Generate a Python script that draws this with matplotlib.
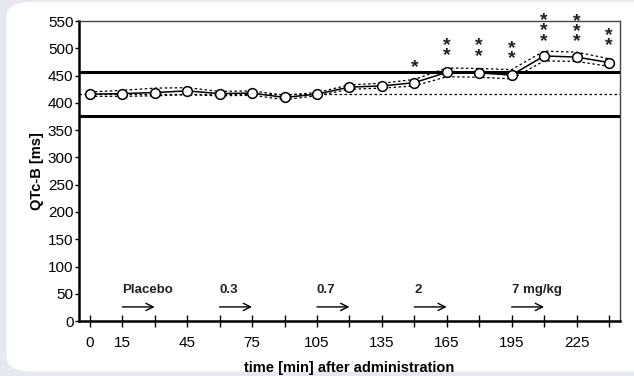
import matplotlib
matplotlib.use("Agg")
import matplotlib.pyplot as plt
from matplotlib.patches import FancyBboxPatch

plt.rcParams['font.family'] = ['Liberation Sans', 'DejaVu Sans']

# Data
times = [0, 15, 30, 45, 60, 75, 90, 105, 120, 135, 150, 165, 180, 195, 210, 225, 240]
qtc_mean = [416, 417, 419, 422, 417, 418, 410, 416, 429, 431, 437, 456, 455, 451, 486, 484, 474]
qtc_sem = [2, 2, 3, 2, 2, 2, 2, 2, 2, 2, 3, 3, 4, 3, 4, 3, 5]
band_upper = [420, 423, 427, 428, 421, 422, 414, 419, 433, 436, 443, 464, 463, 461, 495, 493, 481]
band_lower = [412, 412, 413, 415, 413, 414, 406, 413, 425, 427, 431, 448, 447, 444, 477, 476, 467]
upper_limit = 457
lower_limit = 376
baseline = 416
stars_times = [150, 165, 180, 195, 210, 225, 240]
stars_labels = ['*', '**', '**', '**', '***', '***', '**']
stars_y = [464, 496, 495, 490, 532, 531, 514]
dose_times = [15, 60, 105, 150, 195]
dose_labels = ['Placebo', '0.3', '0.7', '2', '7 mg/kg']
xticks = list(range(0, 241, 15))
xtick_labels = ['0', '15', '', '45', '', '75', '', '105', '', '135', '', '165', '', '195', '', '225', '']
yticks = list(range(0, 551, 50))

fig = plt.figure(figsize=(6.34, 3.76), dpi=100)
fig.patch.set_facecolor('#e6e8f0')
panel = FancyBboxPatch((0.010, 0.012), 1.2, 0.983, boxstyle="round,pad=0,rounding_size=0.04",
                       transform=fig.transFigure, facecolor='white', edgecolor='none', zorder=-5)
fig.patches.append(panel)

ax = fig.add_axes([0.1246, 0.146, 0.853, 0.798])
ax.set_zorder(2)
ax.set_facecolor('none')

ax.axhline(upper_limit, color='black', lw=2.2, zorder=1)
ax.axhline(lower_limit, color='black', lw=2.2, zorder=1)
ax.axhline(baseline, color='black', lw=0.9, ls=(0, (2, 2)), zorder=1)

ax.plot(times, band_upper, color='black', lw=0.9, ls=(0, (2, 2)), zorder=2)
ax.plot(times, band_lower, color='black', lw=0.9, ls=(0, (2, 2)), zorder=2)
ax.errorbar(times, qtc_mean, yerr=qtc_sem, color='black', lw=1.1, capsize=3, capthick=1,
            marker='o', markersize=7, markerfacecolor='white', markeredgecolor='black',
            markeredgewidth=1.1, zorder=3)

for t, s, y in zip(stars_times, stars_labels, stars_y):
    ax.text(t, y, '\n'.join(s), ha='center', va='center', fontsize=14, fontweight='bold',
            linespacing=0.48, color='#222222')

for t, lab in zip(dose_times, dose_labels):
    ax.text(t, 46, lab, ha='left', va='bottom', fontsize=9.5, fontweight='bold', color='#222222')
    ax.annotate('', xy=(t + 15, 26), xytext=(t, 26),
                arrowprops=dict(arrowstyle='->', color='black', lw=1.0, mutation_scale=13,
                                shrinkA=0, shrinkB=0))

ax.set_xlim(-5, 245)
ax.set_ylim(0, 550)
ax.set_xticks(xticks)
ax.set_xticklabels(xtick_labels)
ax.set_yticks(yticks)
ax.tick_params(axis='x', direction='inout', length=8, width=1, labelsize=11, pad=7)
ax.tick_params(axis='y', direction='out', length=3, width=1, labelsize=11, pad=1)

for side in ['left', 'bottom']:
    ax.spines[side].set_linewidth(1.8)
for side in ['top', 'right']:
    ax.spines[side].set_linewidth(1.0)
    ax.spines[side].set_color('#444444')

ax.set_ylabel('QTc-B [ms]', fontsize=10.5, fontweight='bold', labelpad=3)
ax.set_xlabel('time [min] after administration', fontsize=10.5, fontweight='bold', labelpad=8)

fig.savefig('out.png', dpi=100, facecolor=fig.get_facecolor())
